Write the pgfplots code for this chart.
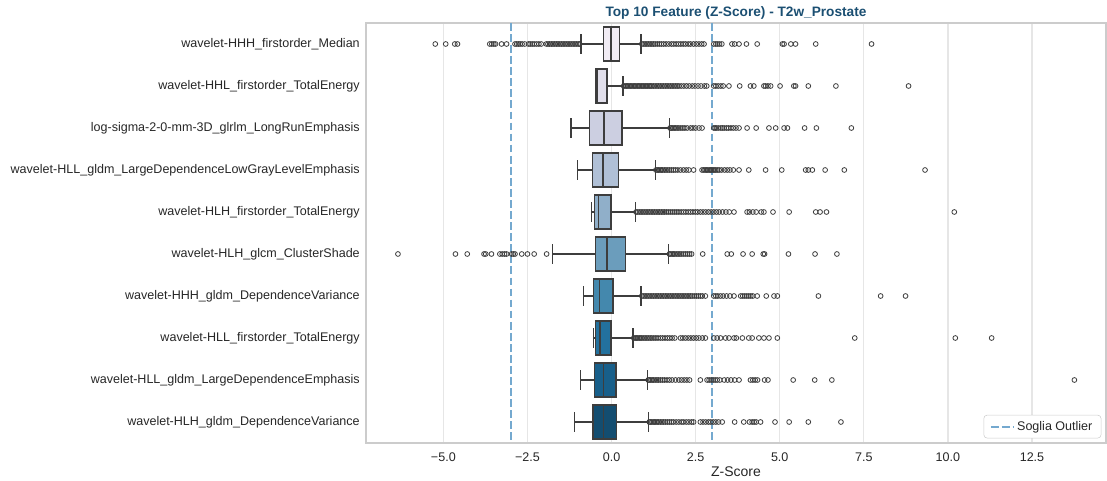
\documentclass[border=0pt]{standalone}
\usepackage{pgfplots}
\pgfplotsset{compat=1.18}
\usepgfplotslibrary{statistics}
\usepackage{fontspec}
\setmainfont{Liberation Sans}
\definecolor{c1}{RGB}{241,236,244}
\definecolor{c2}{RGB}{225,223,235}
\definecolor{c3}{RGB}{204,207,225}
\definecolor{c4}{RGB}{176,192,214}
\definecolor{c5}{RGB}{144,175,201}
\definecolor{c6}{RGB}{107,157,188}
\definecolor{c7}{RGB}{68,136,173}
\definecolor{c8}{RGB}{35,113,158}
\definecolor{c9}{RGB}{24,95,138}
\definecolor{c10}{RGB}{19,77,112}
\definecolor{edge}{RGB}{61,61,61}
\definecolor{thr}{RGB}{116,169,207}
\definecolor{titlec}{RGB}{27,79,114}
\definecolor{txt}{RGB}{38,38,38}
\definecolor{gridc}{RGB}{230,230,230}
\definecolor{spine}{RGB}{204,204,204}
\pgfplotsset{
  bx/.style={draw=edge, line width=1.1pt, forget plot, solid},
  outl/.style={only marks, mark=o, mark size=1.8pt, mark options={draw=edge, line width=0.6pt, solid}, forget plot},
}
\begin{document}
\fontsize{9.4pt}{11pt}\selectfont
\begin{tikzpicture}
\begin{axis}[
  name=ax,
  scale only axis, width=555pt, height=315pt,
  xmin=-7.3, xmax=14.7, ymin=-0.5, ymax=9.5, y dir=reverse,
  xtick={-5,-2.5,0,2.5,5,7.5,10,12.5},
  xticklabels={−5.0,−2.5,0.0,2.5,5.0,7.5,10.0,12.5},
  ytick={0,1,2,3,4,5,6,7,8,9},
  yticklabels={wavelet-HHH\_firstorder\_Median,
    wavelet-HHL\_firstorder\_TotalEnergy,
    log-sigma-2-0-mm-3D\_glrlm\_LongRunEmphasis,
    wavelet-HLL\_gldm\_LargeDependenceLowGrayLevelEmphasis,
    wavelet-HLH\_firstorder\_TotalEnergy,
    wavelet-HLH\_glcm\_ClusterShade,
    wavelet-HHH\_gldm\_DependenceVariance,
    wavelet-HLL\_firstorder\_TotalEnergy,
    wavelet-HLL\_gldm\_LargeDependenceEmphasis,
    wavelet-HLH\_gldm\_DependenceVariance},
  major tick length=0pt,
  xmajorgrids, ymajorgrids=false,
  major grid style={gridc, line width=1pt},
  axis line style={spine, line width=0.8pt},
  tick label style={txt},
  xticklabel style={inner sep=0pt, anchor=north, yshift=-7pt},
  yticklabel style={inner sep=0pt, anchor=east, xshift=-4.5pt},
  xlabel={Z-Score},
  every axis x label/.style={at={(axis description cs:0.5,0)}, anchor=north, inner sep=0pt, yshift=-17.5pt, text=txt, font=\fontsize{10.5pt}{12pt}\selectfont},
  title={Top 10 Feature (Z-Score) - T2w\_Prostate},
  every axis title/.style={at={(axis description cs:0.5,1)}, anchor=base, inner sep=0pt, yshift=4.8pt, text=titlec, font=\fontsize{10.25pt}{12pt}\selectfont\bfseries},
  legend style={at={(1,0)}, anchor=south east, xshift=-3.5pt, yshift=3.5pt, draw=spine, rounded corners=2.5pt, fill=white, text=txt, inner xsep=4.5pt, inner ysep=2.5pt},
  legend cell align=left,
  boxplot/box extend=0.8,
  boxplot/whisker extend=0.47,
]
% thresholds
\addplot[thr, line width=1.5pt, dash pattern=on 5.8pt off 2.5pt,
  legend image code/.code={\draw[thr, line width=1.5pt, dash pattern=on 5.8pt off 2.5pt] (0pt,0pt) -- (17pt,0pt);}]
  coordinates {(-3,-0.5) (-3,9.5)};
\addlegendentry{Soglia Outlier}
\addplot[thr, line width=1.5pt, dash pattern=on 5.8pt off 2.5pt, forget plot] coordinates {(3,-0.5) (3,9.5)};

% boxes
\addplot[bx, fill=c1, boxplot prepared={draw position=0, lower whisker=-0.91, lower quartile=-0.24, median=-0.02, upper quartile=0.24, upper whisker=0.87}] coordinates {};
\addplot[bx, fill=c2, boxplot prepared={draw position=1, lower whisker=-0.48, lower quartile=-0.46, median=-0.42, upper quartile=-0.14, upper whisker=0.34}] coordinates {};
\addplot[bx, fill=c3, boxplot prepared={draw position=2, lower whisker=-1.21, lower quartile=-0.66, median=-0.22, upper quartile=0.31, upper whisker=1.72}] coordinates {};
\addplot[bx, fill=c4, boxplot prepared={draw position=3, lower whisker=-1.01, lower quartile=-0.56, median=-0.26, upper quartile=0.20, upper whisker=1.30}] coordinates {};
\addplot[bx, fill=c5, boxplot prepared={draw position=4, lower whisker=-0.60, lower quartile=-0.51, median=-0.38, upper quartile=-0.01, upper whisker=0.71}] coordinates {};
\addplot[bx, fill=c6, boxplot prepared={draw position=5, lower whisker=-1.75, lower quartile=-0.47, median=-0.13, upper quartile=0.41, upper whisker=1.70}] coordinates {};
\addplot[bx, fill=c7, boxplot prepared={draw position=6, lower whisker=-0.83, lower quartile=-0.54, median=-0.36, upper quartile=0.05, upper whisker=0.88}] coordinates {};
\addplot[bx, fill=c8, boxplot prepared={draw position=7, lower whisker=-0.54, lower quartile=-0.47, median=-0.34, upper quartile=-0.02, upper whisker=0.64}] coordinates {};
\addplot[bx, fill=c9, boxplot prepared={draw position=8, lower whisker=-0.93, lower quartile=-0.51, median=-0.24, upper quartile=0.13, upper whisker=1.07}] coordinates {};
\addplot[bx, fill=c10, boxplot prepared={draw position=9, lower whisker=-1.10, lower quartile=-0.55, median=-0.24, upper quartile=0.14, upper whisker=1.10}] coordinates {};

% outliers row 0
\addplot[outl] coordinates {
(-5.24,0)(-4.93,0)(-4.66,0)(-4.58,0)(-3.62,0)(-3.56,0)(-3.50,0)(-3.45,0)(-3.27,0)(-3.12,0)
(-2.87,0)(-2.82,0)(-2.77,0)(-2.72,0)(-2.66,0)(-2.58,0)(-2.47,0)(-2.42,0)(-2.36,0)(-2.30,0)
(-2.23,0)(-2.16,0)(-2.09,0)(-1.94,0)(-1.89,0)(-1.84,0)(-1.79,0)(-1.74,0)(-1.69,0)(-1.64,0)
(-1.59,0)(-1.54,0)(-1.49,0)(-1.44,0)(-1.39,0)(-1.34,0)(-1.29,0)(-1.24,0)(-1.19,0)(-1.14,0)
(-1.09,0)(-1.04,0)(-0.99,0)(-0.95,0)
(0.90,0)(0.95,0)(1.00,0)(1.05,0)(1.10,0)(1.15,0)(1.20,0)(1.25,0)(1.30,0)(1.36,0)
(1.42,0)(1.48,0)(1.55,0)(1.62,0)(1.70,0)(1.78,0)(1.85,0)(1.92,0)(1.99,0)(2.06,0)
(2.13,0)(2.20,0)(2.28,0)(2.35,0)(2.44,0)(2.52,0)(2.60,0)(2.68,0)(2.75,0)(3.04,0)
(3.10,0)(3.15,0)(3.21,0)(3.28,0)(3.58,0)(3.66,0)(3.79,0)(4.01,0)(4.33,0)(5.08,0)
(5.13,0)(5.33,0)(5.47,0)(6.07,0)(7.73,0)};
% row 1
\addplot[outl] coordinates {
(0.36,1)(0.40,1)(0.44,1)(0.48,1)(0.52,1)(0.56,1)(0.60,1)(0.64,1)(0.68,1)(0.72,1)
(0.76,1)(0.80,1)(0.84,1)(0.88,1)(0.92,1)(0.96,1)(1.00,1)(1.04,1)(1.08,1)(1.12,1)
(1.16,1)(1.20,1)(1.25,1)(1.30,1)(1.35,1)(1.40,1)(1.45,1)(1.50,1)(1.55,1)(1.60,1)
(1.65,1)(1.70,1)(1.75,1)(1.80,1)(1.85,1)(1.90,1)(1.95,1)(2.00,1)(2.07,1)(2.15,1)
(2.23,1)(2.31,1)(2.40,1)(2.48,1)(2.57,1)(2.66,1)(2.76,1)(2.83,1)(3.04,1)(3.10,1)
(3.17,1)(3.25,1)(3.32,1)(3.49,1)(3.81,1)(4.13,1)(4.23,1)(4.53,1)(4.58,1)(4.65,1)
(4.73,1)(5.01,1)(5.42,1)(5.47,1)(5.85,1)(6.67,1)(8.83,1)};
% row 2
\addplot[outl] coordinates {
(1.74,2)(1.78,2)(1.82,2)(1.86,2)(1.90,2)(1.95,2)(2.00,2)(2.06,2)(2.12,2)(2.18,2)
(2.25,2)(2.35,2)(2.42,2)(2.50,2)(2.60,2)(2.69,2)(3.04,2)(3.08,2)(3.12,2)(3.18,2)
(3.25,2)(3.30,2)(3.35,2)(3.42,2)(3.48,2)(3.55,2)(3.62,2)(3.70,2)(3.79,2)(4.03,2)
(4.30,2)(4.68,2)(4.88,2)(5.13,2)(5.23,2)(5.74,2)(6.09,2)(7.13,2)};
% row 3
\addplot[outl] coordinates {
(1.32,3)(1.36,3)(1.40,3)(1.44,3)(1.48,3)(1.52,3)(1.57,3)(1.62,3)(1.67,3)(1.72,3)
(1.78,3)(1.84,3)(1.90,3)(1.97,3)(2.05,3)(2.14,3)(2.22,3)(2.30,3)(2.44,3)(2.69,3)
(2.74,3)(2.78,3)(2.82,3)(2.86,3)(2.90,3)(2.94,3)(2.98,3)(3.02,3)(3.06,3)(3.10,3)
(3.15,3)(3.20,3)(3.27,3)(3.36,3)(3.44,3)(3.52,3)(3.62,3)(3.79,3)(4.08,3)(4.58,3)
(5.06,3)(5.77,3)(5.85,3)(5.97,3)(6.35,3)(6.92,3)(9.32,3)};
% row 4
\addplot[outl] coordinates {
(0.73,4)(0.78,4)(0.83,4)(0.88,4)(0.93,4)(0.98,4)(1.03,4)(1.08,4)(1.13,4)(1.18,4)
(1.23,4)(1.28,4)(1.33,4)(1.38,4)(1.43,4)(1.48,4)(1.53,4)(1.58,4)(1.64,4)(1.70,4)
(1.76,4)(1.82,4)(1.88,4)(1.94,4)(2.00,4)(2.07,4)(2.14,4)(2.21,4)(2.28,4)(2.35,4)
(2.42,4)(2.49,4)(2.56,4)(2.64,4)(2.72,4)(2.80,4)(2.88,4)(2.96,4)(3.04,4)(3.12,4)
(3.20,4)(3.30,4)(3.40,4)(3.50,4)(3.64,4)(4.03,4)(4.10,4)(4.20,4)(4.30,4)(4.45,4)
(4.53,4)(4.80,4)(5.28,4)(6.07,4)(6.20,4)(6.39,4)(10.19,4)};
% row 5
\addplot[outl] coordinates {
(-6.35,5)(-4.64,5)(-4.29,5)(-3.79,5)(-3.74,5)(-3.57,5)(-3.32,5)(-3.25,5)(-3.18,5)(-3.12,5)
(-2.97,5)(-2.92,5)(-2.87,5)(-2.67,5)(-2.50,5)(-2.30,5)(-1.93,5)
(1.72,5)(1.76,5)(1.80,5)(1.84,5)(1.88,5)(1.93,5)(1.98,5)(2.03,5)(2.08,5)(2.14,5)
(2.20,5)(2.26,5)(2.32,5)(2.38,5)(2.71,5)(3.44,5)(3.56,5)(3.91,5)(4.18,5)(4.51,5)
(4.55,5)(5.26,5)(6.05,5)(6.70,5)};
% row 6
\addplot[outl] coordinates {
(0.90,6)(0.95,6)(1.00,6)(1.05,6)(1.10,6)(1.15,6)(1.20,6)(1.25,6)(1.30,6)(1.35,6)
(1.40,6)(1.45,6)(1.50,6)(1.55,6)(1.60,6)(1.65,6)(1.70,6)(1.75,6)(1.80,6)(1.85,6)
(1.90,6)(1.95,6)(2.00,6)(2.05,6)(2.10,6)(2.15,6)(2.20,6)(2.25,6)(2.30,6)(2.35,6)
(2.40,6)(2.46,6)(2.52,6)(2.58,6)(2.64,6)(2.70,6)(2.79,6)(3.04,6)(3.10,6)(3.16,6)
(3.24,6)(3.32,6)(3.42,6)(3.52,6)(3.64,6)(3.84,6)(3.90,6)(3.96,6)(4.02,6)(4.08,6)
(4.14,6)(4.20,6)(4.33,6)(4.60,6)(4.83,6)(4.93,6)(6.15,6)(8.00,6)(8.74,6)};
% row 7
\addplot[outl] coordinates {
(0.66,7)(0.70,7)(0.74,7)(0.78,7)(0.82,7)(0.86,7)(0.90,7)(0.95,7)(1.00,7)(1.05,7)
(1.10,7)(1.15,7)(1.20,7)(1.26,7)(1.32,7)(1.38,7)(1.45,7)(1.52,7)(1.59,7)(1.66,7)
(1.73,7)(1.80,7)(1.88,7)(2.05,7)(2.12,7)(2.20,7)(2.28,7)(2.36,7)(2.44,7)(2.52,7)
(2.60,7)(2.70,7)(2.79,7)(3.04,7)(3.14,7)(3.24,7)(3.39,7)(3.49,7)(3.64,7)(3.71,7)
(3.89,7)(4.08,7)(4.18,7)(4.38,7)(4.53,7)(4.68,7)(4.93,7)(7.23,7)(10.22,7)(11.30,7)};
% row 8
\addplot[outl] coordinates {
(1.09,8)(1.13,8)(1.17,8)(1.21,8)(1.25,8)(1.30,8)(1.35,8)(1.40,8)(1.46,8)(1.52,8)
(1.58,8)(1.65,8)(1.72,8)(1.80,8)(1.90,8)(2.00,8)(2.08,8)(2.16,8)(2.24,8)(2.32,8)
(2.64,8)(2.84,8)(2.90,8)(2.96,8)(3.02,8)(3.08,8)(3.14,8)(3.22,8)(3.35,8)(3.45,8)
(3.55,8)(3.66,8)(3.79,8)(4.13,8)(4.20,8)(4.27,8)(4.34,8)(4.55,8)(4.65,8)(5.40,8)
(6.04,8)(6.55,8)(13.76,8)};
% row 9
\addplot[outl] coordinates {
(1.12,9)(1.16,9)(1.20,9)(1.24,9)(1.28,9)(1.32,9)(1.36,9)(1.40,9)(1.45,9)(1.50,9)
(1.55,9)(1.60,9)(1.66,9)(1.72,9)(1.78,9)(1.84,9)(1.92,9)(2.00,9)(2.08,9)(2.14,9)
(2.22,9)(2.30,9)(2.38,9)(2.44,9)(2.64,9)(2.72,9)(2.80,9)(2.88,9)(2.95,9)(3.02,9)
(3.10,9)(3.18,9)(3.29,9)(3.66,9)(3.93,9)(4.10,9)(4.18,9)(4.24,9)(4.30,9)(4.43,9)
(4.86,9)(5.28,9)(5.85,9)(6.82,9)};
\end{axis}
\pgfresetboundingbox
\path[use as bounding box] ([xshift=-274.5pt,yshift=-28.5pt]ax.south west) rectangle ([xshift=0.75pt,yshift=17.25pt]ax.north east);
\end{tikzpicture}
\end{document}
